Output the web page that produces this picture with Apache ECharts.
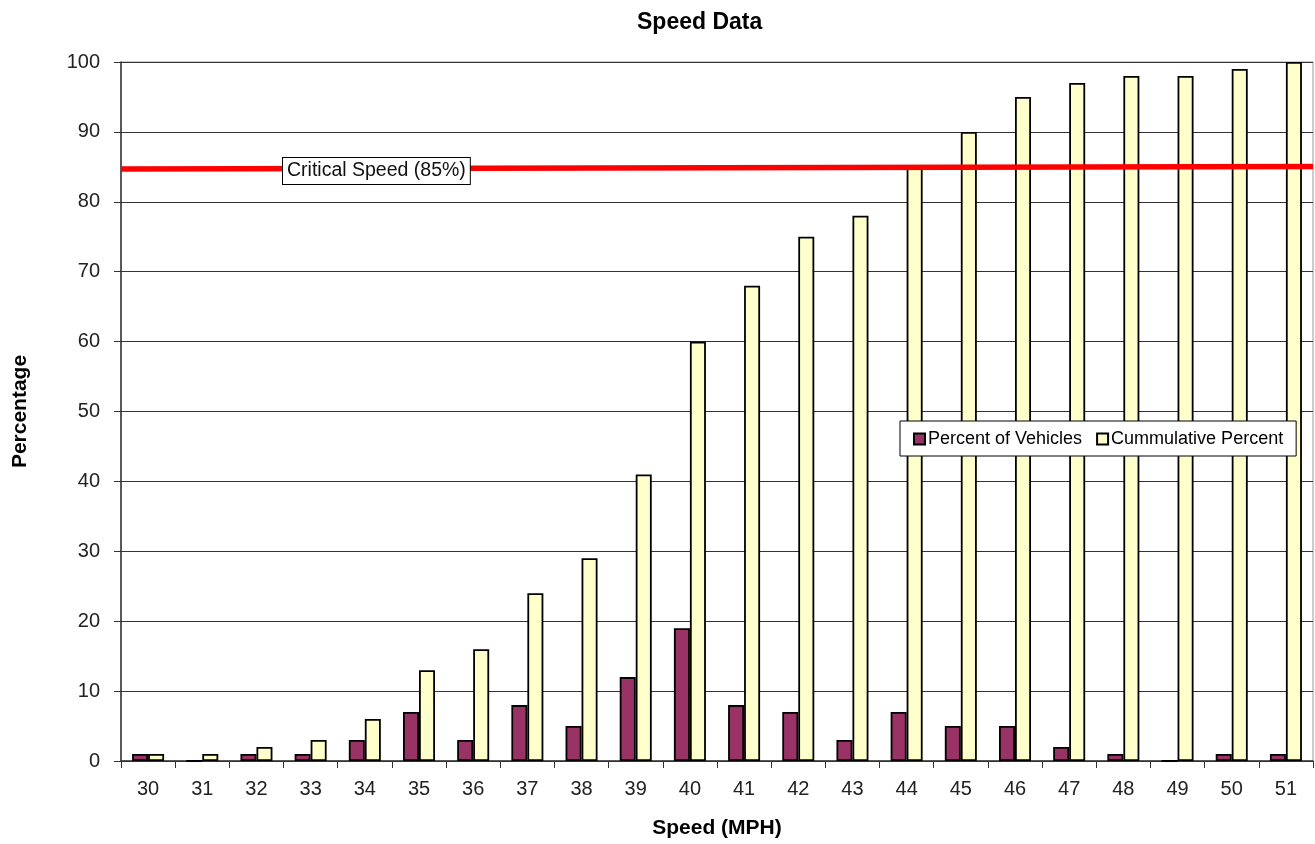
<!DOCTYPE html>
<html><head><meta charset="utf-8">
<script src="https://cdn.jsdelivr.net/npm/echarts@6/dist/echarts.min.js"></script>
<style>html,body{margin:0;padding:0;background:#fff}#c{width:1315px;height:844px}</style>
</head><body><div id="c"></div>
<script>
const speeds = ['30','31','32','33','34','35','36','37','38','39','40','41','42','43','44','45','46','47','48','49','50','51'];
const percentOfVehicles = [1,0,1,1,3,7,3,8,5,12,19,8,7,3,7,5,5,2,1,0,1,1];
const cumulativePercent = [1,1,2,3,6,13,16,24,29,41,60,68,75,78,85,90,95,97,98,98,99,100];
const criticalLine = [[0,84.7],[1,85.05]];
const yTicks = {min:0, max:100, interval:10};

const chart = echarts.init(document.getElementById('c'));
const font = 'Liberation Sans, Arial, sans-serif';
chart.setOption({
  animation:false,
  backgroundColor:'#fff',
  textStyle:{fontFamily:font},
  title:{text:'Speed Data', left:632, top:6, textStyle:{fontFamily:font,fontSize:23,fontWeight:'bold',color:'#000'}},
  grid:{left:121,right:2,top:62,bottom:75,show:true,borderColor:'#999',borderWidth:1},
  legend:{
    data:['Percent of Vehicles','Cummulative Percent'],
    left:900, top:421,
    padding:[9,13,8,13], itemGap:14,
    backgroundColor:'#fff', borderColor:'#000', borderWidth:1, borderRadius:0,
    itemWidth:11, itemHeight:11, icon:'rect',
    textStyle:{fontFamily:font,fontSize:18,color:'#000',padding:[0,0,0,-2]}
  },
  xAxis:[{
    type:'category', data:speeds, boundaryGap:true,
    name:'Speed (MPH)', nameLocation:'middle', nameGap:57,
    nameTextStyle:{fontFamily:font,fontSize:21,fontWeight:'bold',color:'#000'},
    axisLine:{lineStyle:{color:'#333',width:1.5}},
    axisTick:{show:true,alignWithLabel:false,length:7,lineStyle:{color:'#333'}},
    axisLabel:{fontFamily:font,fontSize:20,color:'#222',margin:18}
  },{
    type:'value', min:0, max:1, show:false, position:'top'
  }],
  yAxis:{
    type:'value', min:yTicks.min, max:yTicks.max, interval:yTicks.interval,
    name:'Percentage', nameLocation:'middle', nameGap:90, nameRotate:90,
    nameTextStyle:{fontFamily:font,fontSize:21,fontWeight:'bold',color:'#000'},
    axisLine:{show:true,lineStyle:{color:'#333',width:1.5}},
    axisTick:{show:true,length:7,lineStyle:{color:'#333'}},
    axisLabel:{fontFamily:font,fontSize:20,color:'#222',margin:21},
    splitLine:{show:true,lineStyle:{color:'#333',width:1}}
  },
  series:[{
    name:'Percent of Vehicles', type:'bar', data:percentOfVehicles,
    barWidth:16, barGap:'0%',
    itemStyle:{color:'#993366',borderColor:'#000',borderWidth:1.8}
  },{
    name:'Cummulative Percent', type:'bar', data:cumulativePercent,
    barWidth:16, barGap:'0%',
    itemStyle:{color:'#FFFFCC',borderColor:'#000',borderWidth:1.8}
  },{
    name:'Critical Speed', type:'line', xAxisIndex:1, data:criticalLine,
    symbol:'none', lineStyle:{color:'#ff0000',width:5.5}, z:5, silent:true
  }],
  graphic:[{
    type:'text', left:282, top:157, z:100,
    style:{text:'Critical Speed (85%)', font:'19.5px Liberation Sans, Arial, sans-serif', fill:'#111',
      lineHeight:22, backgroundColor:'#fff', borderColor:'#000', borderWidth:1, padding:[2,4,2,4]}
  }]
});
</script></body></html>
